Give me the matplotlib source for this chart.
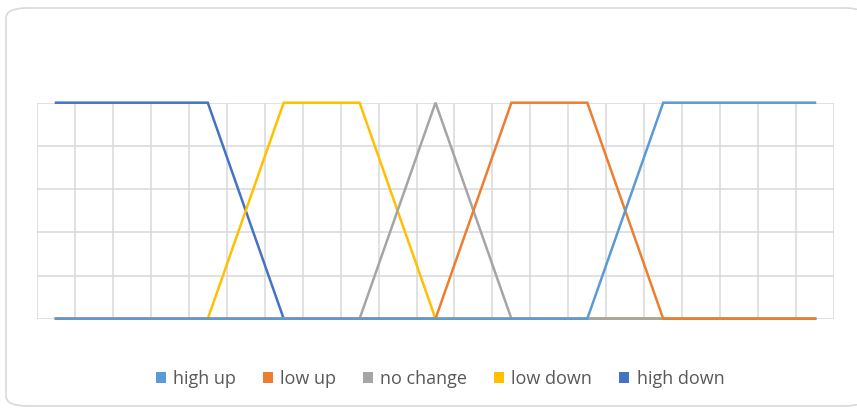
import numpy as np
import matplotlib.pyplot as plt
from matplotlib.patches import FancyBboxPatch, Patch

# membership values, 21 categories
steps = list(range(21))
high_up = [0, 0, 0, 0, 0, 0, 0, 0, 0, 0, 0, 0, 0, 0, 0, 0.5, 1, 1, 1, 1, 1]
low_up = [0, 0, 0, 0, 0, 0, 0, 0, 0, 0, 0, 0.5, 1, 1, 1, 0.5, 0, 0, 0, 0, 0]
no_change = [0, 0, 0, 0, 0, 0, 0, 0, 0, 0.5, 1, 0.5, 0, 0, 0, 0, 0, 0, 0, 0, 0]
low_down = [0, 0, 0, 0, 0, 0.5, 1, 1, 1, 0.5, 0, 0, 0, 0, 0, 0, 0, 0, 0, 0, 0]
high_down = [1, 1, 1, 1, 1, 0.5, 0, 0, 0, 0, 0, 0, 0, 0, 0, 0, 0, 0, 0, 0, 0]

names = ['high up', 'low up', 'no change', 'low down', 'high down']
series = [high_up, low_up, no_change, low_down, high_down]
colors = ['#5B9BD5', '#ED7D31', '#A5A5A5', '#FFC000', '#4472C4']

plt.rcParams['font.family'] = ['Open Sans', 'DejaVu Sans']

fig = plt.figure(figsize=(8.57, 4.09), dpi=100)

# rounded frame around the chart
frame = FancyBboxPatch((6 / 857, 1 - 406 / 409), 860 / 857, 398 / 409,
                       boxstyle='round,pad=0,rounding_size=0.025',
                       transform=fig.transFigure, facecolor='white',
                       edgecolor='#D9D9D9', linewidth=1.2, zorder=-10)
fig.patches.append(frame)

ax = fig.add_axes([37 / 857, 1 - 318.7 / 409, 797 / 857, 216 / 409])
ax.set_facecolor('none')
ax.set_zorder(5)

# earlier series sit on top, as in the original
for k, (name, vals, c) in enumerate(zip(names, series, colors)):
    ax.plot(steps, vals, color=c, linewidth=1.8, zorder=10 - k,
            solid_joinstyle='miter', clip_on=False)

ax.set_xlim(-0.5, 20.5)
ax.set_ylim(0, 1)
ax.set_xticks(np.arange(-0.5, 21, 1))
ax.set_yticks(np.arange(0, 1.01, 0.2))
ax.grid(True, color='#D9D9D9', linewidth=1.1, zorder=0)
ax.tick_params(length=0, labelbottom=False, labelleft=False)
for s in ax.spines.values():
    s.set_visible(False)

handles = [Patch(facecolor=c, edgecolor='none') for c in colors]
fig.legend(handles, names, loc='center', bbox_to_anchor=(440 / 857, 1 - 379 / 409),
           ncol=5, frameon=False, fontsize=13, labelcolor='#595959',
           handlelength=0.55, handleheight=0.55, handletextpad=0.4,
           columnspacing=1.5)

fig.savefig('out.png', dpi=100)
